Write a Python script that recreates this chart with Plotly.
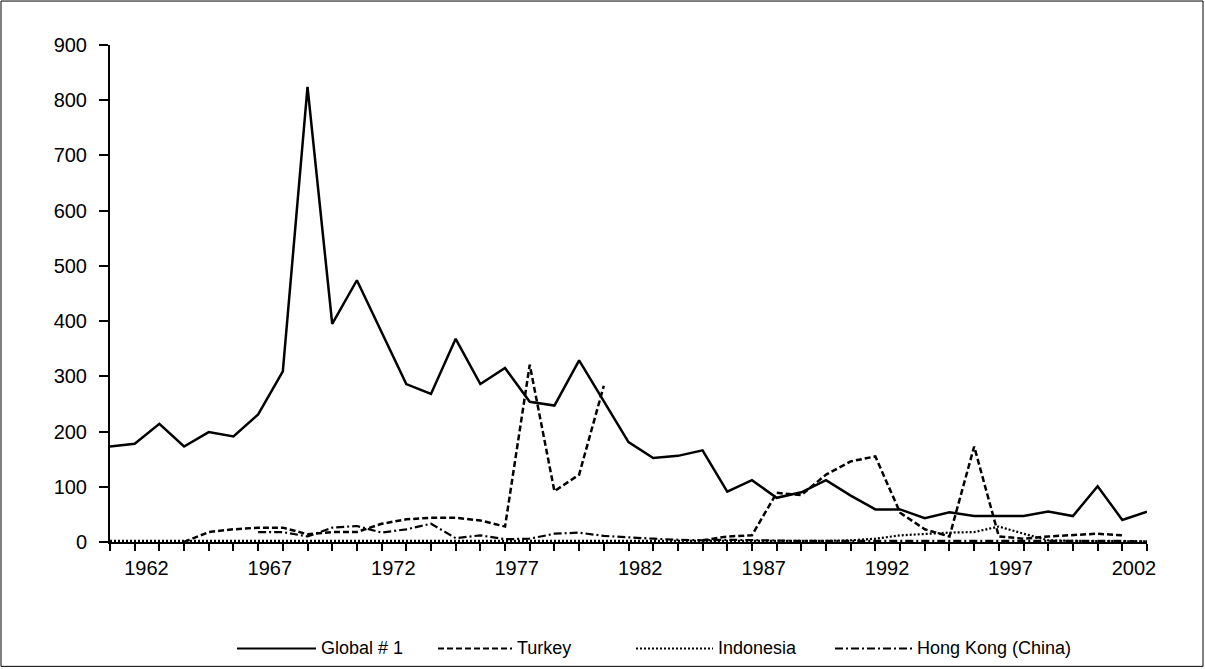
import plotly.graph_objects as go

# ---- data -------------------------------------------------------------
years = [1960, 1961, 1962, 1963, 1964, 1965, 1966, 1967, 1968, 1969,
         1970, 1971, 1972, 1973, 1974, 1975, 1976, 1977, 1978, 1979,
         1980, 1981, 1982, 1983, 1984, 1985, 1986, 1987, 1988, 1989,
         1990, 1991, 1992, 1993, 1994, 1995, 1996, 1997, 1998, 1999,
         2000, 2001, 2002]

global_1 = [173, 178, 214, 173, 199, 191, 231, 309, 824, 395,
            474, 380, 286, 268, 368, 286, 315, 254, 247, 329,
            255, 181, 152, 156, 166, 91, 112, 80, 90, 112,
            84, 59, 59, 43, 54, 47, 47, 47, 55, 47,
            101, 40, 55]

turkey = [None, None, None, 0, 18, 23, 26, 26, 14, 18,
          18, 33, 41, 44, 44, 39, 28, 321, 92, 122,
          283, None, None, None, 3, 10, 12, 89, 85, 122,
          146, 155, 53, 23, 10, 173, 10, 6, 10, 12,
          15, 12, None]

indonesia = [2, 2, 2, 2, 2, 1, 1, 1, 1, 1,
             1, 1, 1, 1, 1, 1, 1, 2, 2, 2,
             2, 2, 2, 2, 2, 2, 2, 2, 2, 2,
             3, 6, 12, 15, 17, 18, 28, 15, 3, 2,
             2, 2, 1]

hong_kong = [None, None, None, None, None, None, 18, 18, 10, 26,
             29, 17, 23, 33, 7, 12, 5, 6, 15, 17,
             11, 8, 6, 4, 3, 4, 3, 2, 2, 2,
             2, 2, 2, 3, 3, 3, 2, 2, 2, 2,
             2, 2, 1]

label_years = [1962, 1967, 1972, 1977, 1982, 1987, 1992, 1997, 2002]
y_ticks = [0, 100, 200, 300, 400, 500, 600, 700, 800, 900]

series = [
    ("Global # 1", global_1, "solid", 2.5),
    ("Turkey", turkey, "6px,3px", 2.5),
    ("Indonesia", indonesia, "2px,2px", 2.2),
    ("Hong Kong (China)", hong_kong, "8px,3px,2px,3px", 2.2),
]

# ---- geometry (pixels) -----------------------------------------------
W, H = 1205, 669
L, R, T, B = 110, 58, 45, 126.5
PW, PH = W - L - R, H - T - B


def px_x(px):
    return (px - L) / PW


def px_y(py):
    return (H - B - py) / PH


FONT = "Liberation Sans, Arial, sans-serif"

fig = go.Figure()
for name, vals, dash, width in series:
    fig.add_trace(go.Scatter(
        x=years, y=vals, name=name, mode="lines",
        line=dict(color="black", width=width, dash=dash),
        connectgaps=False, showlegend=False,
    ))

# ---- legend drawn beneath the axis ------------------------------------
legend_items = [
    ("Global # 1", "solid", 237, 316),
    ("Turkey", "6px,3px", 438, 512),
    ("Indonesia", "2px,2px", 636, 713),
    ("Hong Kong (China)", "8px,3px,2px,3px", 835, 912),
]
shapes = []
annotations = []
legend_py = 649
for text, dash, x0, x1 in legend_items:
    shapes.append(dict(type="line", xref="paper", yref="paper",
                       x0=px_x(x0), x1=px_x(x1),
                       y0=px_y(legend_py), y1=px_y(legend_py),
                       line=dict(color="black", width=2, dash=dash)))
    annotations.append(dict(text=text, xref="paper", yref="paper",
                            x=px_x(x1 + 3), y=px_y(legend_py),
                            xanchor="left", yanchor="middle",
                            showarrow=False,
                            font=dict(family=FONT, size=18, color="black")))

# outer frame
shapes.append(dict(type="rect", xref="paper", yref="paper",
                   x0=px_x(1), x1=px_x(W - 2), y0=px_y(H - 2), y1=px_y(1),
                   line=dict(color="black", width=1), layer="below"))

fig.update_layout(
    width=W, height=H, autosize=False,
    margin=dict(l=L, r=R, t=T, b=B, pad=0),
    paper_bgcolor="white", plot_bgcolor="white",
    font=dict(family=FONT, size=20, color="black"),
    shapes=shapes, annotations=annotations,
    xaxis=dict(
        range=[1960, 2002], tickmode="array", tickvals=label_years,
        ticktext=[str(y) for y in label_years],
        ticks="outside", ticklen=7, tickwidth=2, tickcolor="black",
        showline=True, linewidth=2, linecolor="black",
        showgrid=False, zeroline=False, ticklabelshift=-13,
        minor=dict(tick0=1960, dtick=1, ticks="outside", ticklen=7,
                   tickwidth=2, tickcolor="black", showgrid=False),
        tickfont=dict(family=FONT, size=20, color="black"),
    ),
    yaxis=dict(
        range=[0, 900], tickmode="array", tickvals=y_ticks,
        ticks="outside", ticklen=9, tickwidth=2, tickcolor="black",
        showline=True, linewidth=2, linecolor="black",
        showgrid=False, zeroline=False, ticklabelstandoff=8,
        tickfont=dict(family=FONT, size=20, color="black"),
    ),
)

fig.write_html("out.html")
